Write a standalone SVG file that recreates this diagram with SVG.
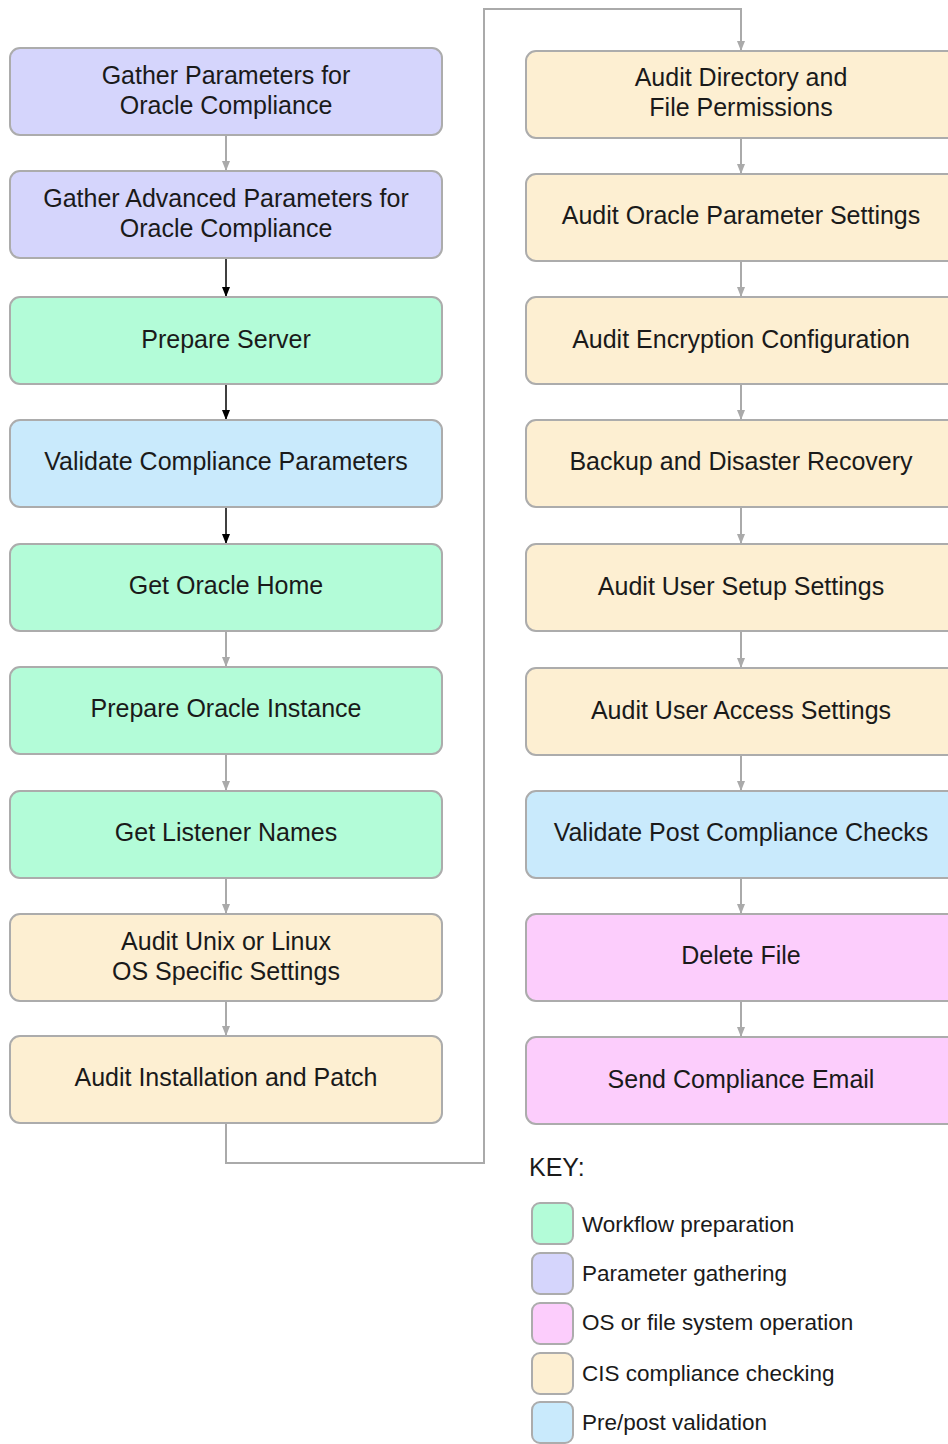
<svg xmlns="http://www.w3.org/2000/svg" width="948" height="1444" viewBox="0 0 948 1444">
<defs>
<style>
.n rect{stroke:#acacac;stroke-width:2}
.g{fill:#b3fcd8}.p{fill:#d5d5fc}.k{fill:#fccdfc}.y{fill:#fdefd2}.b{fill:#c9eafc}
text{font-family:"Liberation Sans",Arial,sans-serif;fill:#1a1a1a}
.t{font-size:25px;text-anchor:middle}
.kt{font-size:22.5px}
.c{fill:none;stroke:#aaaaaa;stroke-width:2}
.cb{fill:none;stroke:#000;stroke-width:1.5}
</style>
<marker id="ag" markerWidth="10" markerHeight="8" refX="10" refY="4" orient="auto" markerUnits="userSpaceOnUse"><path d="M0,0 L10,4 L0,8 z" fill="#aaaaaa"/></marker>
<marker id="ab" markerWidth="10" markerHeight="8" refX="10" refY="4" orient="auto" markerUnits="userSpaceOnUse"><path d="M0,0 L10,4 L0,8 z" fill="#000"/></marker>
</defs>
<rect width="948" height="1444" fill="#fff"/>
<g id="connectors">
<path class="c" d="M226,136 V171" marker-end="url(#ag)"/>
<path class="cb" d="M226,259 V297" marker-end="url(#ab)"/>
<path class="cb" d="M226,385 V420" marker-end="url(#ab)"/>
<path class="cb" d="M226,508 V544" marker-end="url(#ab)"/>
<path class="c" d="M226,632 V667" marker-end="url(#ag)"/>
<path class="c" d="M226,755 V791" marker-end="url(#ag)"/>
<path class="c" d="M226,879 V914" marker-end="url(#ag)"/>
<path class="c" d="M226,1002 V1036" marker-end="url(#ag)"/>
<path class="c" d="M226,1124 V1163 H484 V9 H741 V51" marker-end="url(#ag)"/>
<path class="c" d="M741,139 V174" marker-end="url(#ag)"/>
<path class="c" d="M741,262 V297" marker-end="url(#ag)"/>
<path class="c" d="M741,385 V420" marker-end="url(#ag)"/>
<path class="c" d="M741,508 V544" marker-end="url(#ag)"/>
<path class="c" d="M741,632 V668" marker-end="url(#ag)"/>
<path class="c" d="M741,756 V791" marker-end="url(#ag)"/>
<path class="c" d="M741,879 V914" marker-end="url(#ag)"/>
<path class="c" d="M741,1002 V1037" marker-end="url(#ag)"/>
</g>
<g id="n1" class="n"><rect class="p" x="10" y="48" width="432" height="87" rx="10"/><text class="t" x="226" y="84">Gather Parameters for</text><text class="t" x="226" y="114">Oracle Compliance</text></g>
<g id="n2" class="n"><rect class="p" x="10" y="171" width="432" height="87" rx="10"/><text class="t" x="226" y="207">Gather Advanced Parameters for</text><text class="t" x="226" y="237">Oracle Compliance</text></g>
<g id="n3" class="n"><rect class="g" x="10" y="297" width="432" height="87" rx="10"/><text class="t" x="226" y="348">Prepare Server</text></g>
<g id="n4" class="n"><rect class="b" x="10" y="420" width="432" height="87" rx="10"/><text class="t" x="226" y="470">Validate Compliance Parameters</text></g>
<g id="n5" class="n"><rect class="g" x="10" y="544" width="432" height="87" rx="10"/><text class="t" x="226" y="594">Get Oracle Home</text></g>
<g id="n6" class="n"><rect class="g" x="10" y="667" width="432" height="87" rx="10"/><text class="t" x="226" y="717">Prepare Oracle Instance</text></g>
<g id="n7" class="n"><rect class="g" x="10" y="791" width="432" height="87" rx="10"/><text class="t" x="226" y="841">Get Listener Names</text></g>
<g id="n8" class="n"><rect class="y" x="10" y="914" width="432" height="87" rx="10"/><text class="t" x="226" y="950">Audit Unix or Linux</text><text class="t" x="226" y="980">OS Specific Settings</text></g>
<g id="n9" class="n"><rect class="y" x="10" y="1036" width="432" height="87" rx="10"/><text class="t" x="226" y="1086">Audit Installation and Patch</text></g>
<g id="n10" class="n"><rect class="y" x="526" y="51" width="432" height="87" rx="10"/><text class="t" x="741" y="86">Audit Directory and</text><text class="t" x="741" y="116">File Permissions</text></g>
<g id="n11" class="n"><rect class="y" x="526" y="174" width="432" height="87" rx="10"/><text class="t" x="741" y="224">Audit Oracle Parameter Settings</text></g>
<g id="n12" class="n"><rect class="y" x="526" y="297" width="432" height="87" rx="10"/><text class="t" x="741" y="348">Audit Encryption Configuration</text></g>
<g id="n13" class="n"><rect class="y" x="526" y="420" width="432" height="87" rx="10"/><text class="t" x="741" y="470">Backup and Disaster Recovery</text></g>
<g id="n14" class="n"><rect class="y" x="526" y="544" width="432" height="87" rx="10"/><text class="t" x="741" y="595">Audit User Setup Settings</text></g>
<g id="n15" class="n"><rect class="y" x="526" y="668" width="432" height="87" rx="10"/><text class="t" x="741" y="719">Audit User Access Settings</text></g>
<g id="n16" class="n"><rect class="b" x="526" y="791" width="432" height="87" rx="10"/><text class="t" x="741" y="841">Validate Post Compliance Checks</text></g>
<g id="n17" class="n"><rect class="k" x="526" y="914" width="432" height="87" rx="10"/><text class="t" x="741" y="964">Delete File</text></g>
<g id="n18" class="n"><rect class="k" x="526" y="1037" width="432" height="87" rx="10"/><text class="t" x="741" y="1088">Send Compliance Email</text></g>
<g id="key">
<text x="529" y="1176" style="font-size:25px">KEY:</text>
<g class="n"><rect class="g" x="532" y="1203" width="41" height="41" rx="8"/></g>
<text class="kt" x="582" y="1232">Workflow preparation</text>
<g class="n"><rect class="p" x="532" y="1253" width="41" height="41" rx="8"/></g>
<text class="kt" x="582" y="1281">Parameter gathering</text>
<g class="n"><rect class="k" x="532" y="1303" width="41" height="41" rx="8"/></g>
<text class="kt" x="582" y="1330">OS or file system operation</text>
<g class="n"><rect class="y" x="532" y="1353" width="41" height="41" rx="8"/></g>
<text class="kt" x="582" y="1381">CIS compliance checking</text>
<g class="n"><rect class="b" x="532" y="1402" width="41" height="41" rx="8"/></g>
<text class="kt" x="582" y="1430">Pre/post validation</text>
</g>
</svg>
